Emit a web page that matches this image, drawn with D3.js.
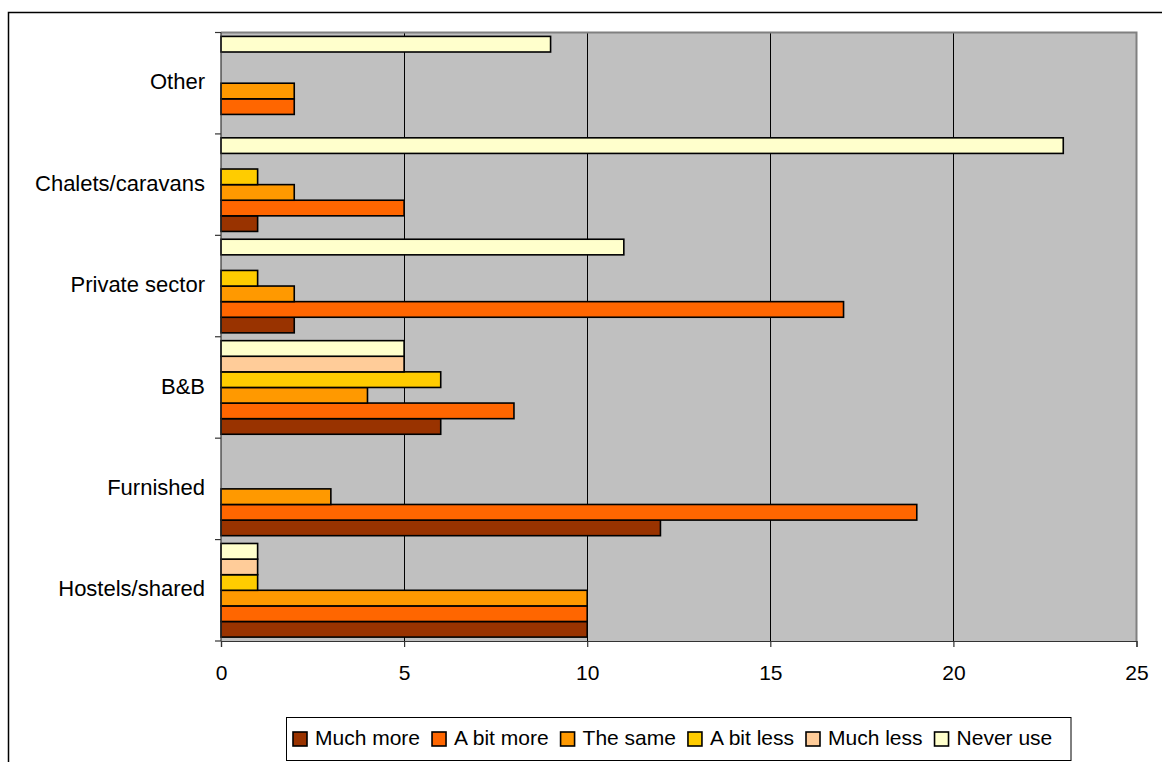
<!DOCTYPE html>
<html>
<head>
<meta charset="utf-8">
<script src="https://cdn.jsdelivr.net/npm/d3@7"></script>
<style>
  html, body { margin: 0; padding: 0; background: #ffffff; }
  svg { display: block; font-family: "Liberation Sans", Arial, sans-serif; }
</style>
</head>
<body>
<svg id="chart" width="1162" height="762"></svg>
<script>
// Categories listed top to bottom as shown
const categories = ["Other", "Chalets/caravans", "Private sector", "B&B", "Furnished", "Hostels/shared"];
const seriesNames = ["Much more", "A bit more", "The same", "A bit less", "Much less", "Never use"];
const seriesColors = ["#993300", "#FF6600", "#FF9900", "#FFCC00", "#FFCC99", "#FFFFCC"];
// values per series, in the same order as categories
const muchMore  = [0, 1, 2, 6, 12, 10];
const aBitMore  = [2, 5, 17, 8, 19, 10];
const theSame   = [2, 2, 2, 4, 3, 10];
const aBitLess  = [0, 1, 1, 6, 0, 1];
const muchLess  = [0, 0, 0, 5, 0, 1];
const neverUse  = [9, 23, 11, 5, 0, 1];
const xTicks = [0, 5, 10, 15, 20, 25];

const seriesValues = [muchMore, aBitMore, theSame, aBitLess, muchLess, neverUse];

const svg = d3.select("#chart");
const plot = { left: 221, right: 1136.5, top: 32.5, bottom: 641 };

const x = d3.scaleLinear().domain([0, 25]).range([plot.left, plot.right]);
const y = d3.scaleBand().domain(categories).range([plot.top, plot.bottom]).padding(0);
// within a category, first series at the bottom
const ySub = d3.scaleBand().domain(seriesNames.slice().reverse())
  .range([0, y.bandwidth()]).paddingInner(0).paddingOuter(0.25);

// outer chart border
svg.append("rect").attr("x", 8.5).attr("y", 12.5).attr("width", 1170).attr("height", 770)
  .attr("fill", "none").attr("stroke", "#000").attr("stroke-width", 1.5);

// plot background
svg.append("rect").attr("x", plot.left).attr("y", plot.top)
  .attr("width", plot.right - plot.left).attr("height", plot.bottom - plot.top)
  .attr("fill", "#C0C0C0");

// gridlines
svg.append("g").selectAll("line").data(xTicks.filter(d => d > 0 && d < 25)).join("line")
  .attr("x1", d => Math.round(x(d)) + 0.5).attr("x2", d => Math.round(x(d)) + 0.5)
  .attr("y1", plot.top).attr("y2", plot.bottom)
  .attr("stroke", "#000").attr("stroke-width", 1);

// plot border top/right
svg.append("path")
  .attr("d", `M${plot.left},${plot.top}H${plot.right}V${plot.bottom}`)
  .attr("fill", "none").attr("stroke", "#808080").attr("stroke-width", 2);

// bars
seriesNames.forEach((s, si) => {
  const data = categories.map((c, ci) => ({ c, v: seriesValues[si][ci] })).filter(d => d.v > 0);
  svg.append("g").selectAll("rect").data(data).join("rect")
    .attr("x", x(0))
    .attr("y", d => y(d.c) + ySub(s))
    .attr("width", d => x(d.v) - x(0))
    .attr("height", ySub.bandwidth())
    .attr("fill", seriesColors[si])
    .attr("stroke", "#000").attr("stroke-width", 1.6);
});

// x axis
const xAxis = svg.append("g").attr("transform", `translate(0,${plot.bottom})`)
  .call(d3.axisBottom(x).tickValues(xTicks).tickSize(6).tickPadding(18));
xAxis.select(".domain").attr("stroke", "#333").attr("stroke-width", 1.2);
xAxis.selectAll(".tick line").attr("stroke", "#333").attr("stroke-width", 1.2);
xAxis.selectAll(".tick text").attr("font-size", 21).attr("fill", "#000")
  .attr("font-family", "'Liberation Sans', Arial, sans-serif");

// y axis: ticks at category boundaries
const yBoundaries = categories.map(c => y(c)).concat([plot.bottom]);
svg.append("line").attr("x1", plot.left).attr("x2", plot.left)
  .attr("y1", plot.top).attr("y2", plot.bottom)
  .attr("stroke", "#333").attr("stroke-width", 1.2);
svg.append("g").selectAll("line").data(yBoundaries).join("line")
  .attr("x1", plot.left - 6).attr("x2", plot.left)
  .attr("y1", d => d).attr("y2", d => d)
  .attr("stroke", "#333").attr("stroke-width", 1.2);
const yAxis = svg.append("g").attr("transform", `translate(${plot.left},0)`)
  .call(d3.axisLeft(y).tickSize(0).tickPadding(16));
yAxis.select(".domain").remove();
yAxis.selectAll(".tick text").attr("font-size", 22).attr("fill", "#000")
  .attr("font-family", "'Liberation Sans', Arial, sans-serif")
  .attr("dy", "0.28em");

// legend
const legend = svg.append("g");
legend.append("rect").attr("x", 286.5).attr("y", 717.5).attr("width", 784.5).attr("height", 43)
  .attr("fill", "#fff").attr("stroke", "#000").attr("stroke-width", 1);
let lx = 293;
seriesNames.forEach((s, i) => {
  legend.append("rect").attr("x", lx).attr("y", 732).attr("width", 14).attr("height", 14)
    .attr("fill", seriesColors[i]).attr("stroke", "#000").attr("stroke-width", 1.6);
  const t = legend.append("text").attr("x", lx + 22).attr("y", 744.5)
    .attr("font-size", 21).attr("fill", "#000").text(s);
  lx = lx + 22 + t.node().getComputedTextLength() + 12;
});
</script>
</body>
</html>
